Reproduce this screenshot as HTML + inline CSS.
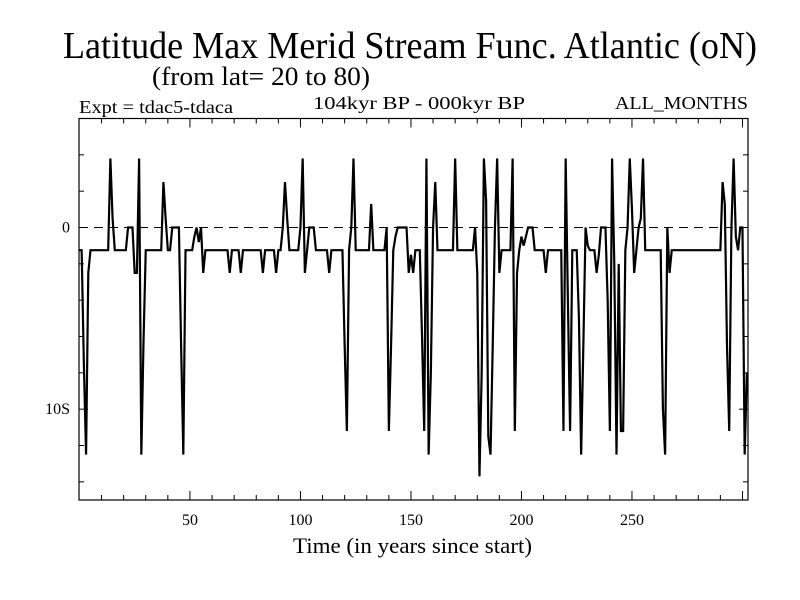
<!DOCTYPE html>
<html><head><meta charset="utf-8"><style>
html,body{margin:0;padding:0;background:#fff;}
svg{display:block;font-family:"Liberation Serif",serif;}
</style></head><body>
<svg id="chart" width="800" height="600" viewBox="0 0 800 600" xmlns="http://www.w3.org/2000/svg">
<text x="63" y="58" font-size="38" textLength="694" lengthAdjust="spacingAndGlyphs">Latitude Max Merid Stream Func. Atlantic (oN)</text>
<text x="152" y="85" font-size="26" textLength="218" lengthAdjust="spacingAndGlyphs">(from lat= 20 to 80)</text>
<text x="79" y="113" font-size="18" textLength="154" lengthAdjust="spacingAndGlyphs">Expt = tdac5-tdaca</text>
<text x="313" y="109" font-size="18" textLength="212" lengthAdjust="spacingAndGlyphs">104kyr BP - 000kyr BP</text>
<text x="615" y="109" font-size="18" textLength="133" lengthAdjust="spacingAndGlyphs">ALL_MONTHS</text>
<text x="293" y="553" font-size="22" textLength="239" lengthAdjust="spacingAndGlyphs">Time (in years since start)</text>
<g id="plot"></g>
</svg>
<script>
const values = [
-1.25,-1.25,-7.5,-12.5,-2.5,-1.25,-1.25,-1.25,-1.25,-1.25,
-1.25,-1.25,-1.25,-1.25,3.8,0.5,-1.25,-1.25,-1.25,-1.25,
-1.25,-1.25,0,0,0,-2.5,-2.5,3.8,-12.5,-6.2,
-1.25,-1.25,-1.25,-1.25,-1.25,-1.25,-1.25,-1.25,2.5,0.5,
-1.25,-1.25,0,0,0,0,-6.5,-12.5,-1.25,-1.25,
-1.25,-1.25,-0.5,0,-0.8,0,-2.5,-1.25,-1.25,-1.25,
-1.25,-1.25,-1.25,-1.25,-1.25,-1.25,-1.25,-1.25,-2.5,-1.25,
-1.25,-1.25,-1.25,-2.5,-1.25,-1.25,-1.25,-1.25,-1.25,-1.25,
-1.25,-1.25,-1.25,-2.5,-1.25,-1.25,-1.25,-1.25,-1.25,-2.5,
-1.25,-1.25,0,2.5,0.5,-1.25,-1.25,-1.25,-1.25,-1.25,
0,3.8,-2.5,-1.25,0,0,0,-1.25,-1.25,-1.25,
-1.25,-1.25,-1.25,-2.5,-1.25,-1.25,-1.25,-1.25,-1.25,-1.25,
-6.5,-11.2,-1.25,0,3.8,-1.25,-1.25,-1.25,-1.25,-1.25,
-1.25,-1.25,1.3,-1.25,-1.25,-1.25,-1.25,-1.25,-1.25,0,
-11.2,-6.5,-1.25,-0.5,0,0,0,0,0,-2.5,
-1.5,-2.5,-1.25,-1.25,-1.25,-6,-11.2,3.8,-12.5,-8,
0,2.5,-1.25,-1.25,-1.25,-1.25,-1.25,-1.25,-1.25,-1.25,
3.8,-1.25,-1.25,-1.25,-1.25,-1.25,-1.25,-1.25,-1.25,0,
-2.5,-13.7,-8,3.8,1.5,-11.5,-12.5,-6.5,0,3.8,
-2.5,-1.25,-1.25,-1.25,-1.25,-1.25,3.8,-11.2,-2.5,-1.25,
-0.5,-1,-0.5,0,0,0,-1.25,-1.25,-1.25,-1.25,
-1.25,-2.5,-1.25,-1.25,-1.25,-1.25,-1.25,-1.25,-1.25,-11.2,
3.8,-4,-11.2,-1.25,-1.25,-1.25,-5,-12.5,-6.5,0,
-1,-1.25,-1.25,-1.25,-2.5,-1.5,0,0,0,-4,
-11.2,3.8,-2,-12.5,-2,-11.2,-11.2,-1.25,0,3.8,
1,-2.5,-1.25,0,0.5,3.8,-1.25,-1.25,-1.25,-1.25,
-1.25,-1.25,-1.25,-1.25,-10,-12.5,0,-2.5,-1.25,-1.25,
-1.25,-1.25,-1.25,-1.25,-1.25,-1.25,-1.25,-1.25,-1.25,-1.25,
-1.25,-1.25,-1.25,-1.25,-1.25,-1.25,-1.25,-1.25,-1.25,-1.25,
-1.25,2.5,1.3,-6.5,-11.2,0,3.8,-0.5,-1.25,0,
0,-12.5,-8
];
const xTickLabels = [50,100,150,200,250];
const yTickValues = [0,-10];
const yTickLabels = ["0","10S"];

const NS="http://www.w3.org/2000/svg";
const L=79,R=748,T=118.5,B=500;
const xMin=-0.2,xMax=302.5,yMin=-15,yMax=6;
function xs(v){return L+(v-xMin)/(xMax-xMin)*(R-L);}
function ys(v){return B-(v-yMin)/(yMax-yMin)*(B-T);}
const g=document.getElementById('plot');
function mk(tag,attrs){const e=document.createElementNS(NS,tag);for(const k in attrs)e.setAttribute(k,attrs[k]);g.appendChild(e);return e;}

const zl=mk('line',{x1:L,x2:R,y1:ys(0),y2:ys(0),stroke:'#000','stroke-width':1,'stroke-dasharray':'9,6'});



for(let t=10;t<=300;t+=10){
  const len=(t%50===0)?9:5;
  const a=mk('line',{x1:xs(t),x2:xs(t),y1:B,y2:B-len,stroke:'#000','stroke-width':1});
  
  
  const b=mk('line',{x1:xs(t),x2:xs(t),y1:T,y2:T+len,stroke:'#000','stroke-width':1});
  
  
}
xTickLabels.forEach(v=>{
  const tx=mk('text',{x:xs(v),y:525,'font-size':16,'text-anchor':'middle'});
  tx.textContent=String(v);
  
  
});
for(let v=-14;v<=6;v+=2){
  const len=(v%10===0)?9:5;
  const a=mk('line',{x1:L,x2:L+len,y1:ys(v),y2:ys(v),stroke:'#000','stroke-width':1});
  
  
  const b=mk('line',{x1:R,x2:R-len,y1:ys(v),y2:ys(v),stroke:'#000','stroke-width':1});
  
  
}
yTickValues.forEach((v,i)=>{
  const tx=mk('text',{x:70,y:ys(v)+5,'font-size':16,'text-anchor':'end'});
  tx.textContent=yTickLabels[i];
  
  
});
const pts=values.map((v,i)=>xs(i).toFixed(2)+','+ys(v).toFixed(2)).join(' ');
const line=mk('polyline',{points:pts,fill:'none',stroke:'#000','stroke-width':2.2,'stroke-linejoin':'miter'});


const fr=mk('rect',{x:L,y:T,width:R-L,height:B-T,fill:'none',stroke:'#000','stroke-width':1.2});


</script>
</body></html>
